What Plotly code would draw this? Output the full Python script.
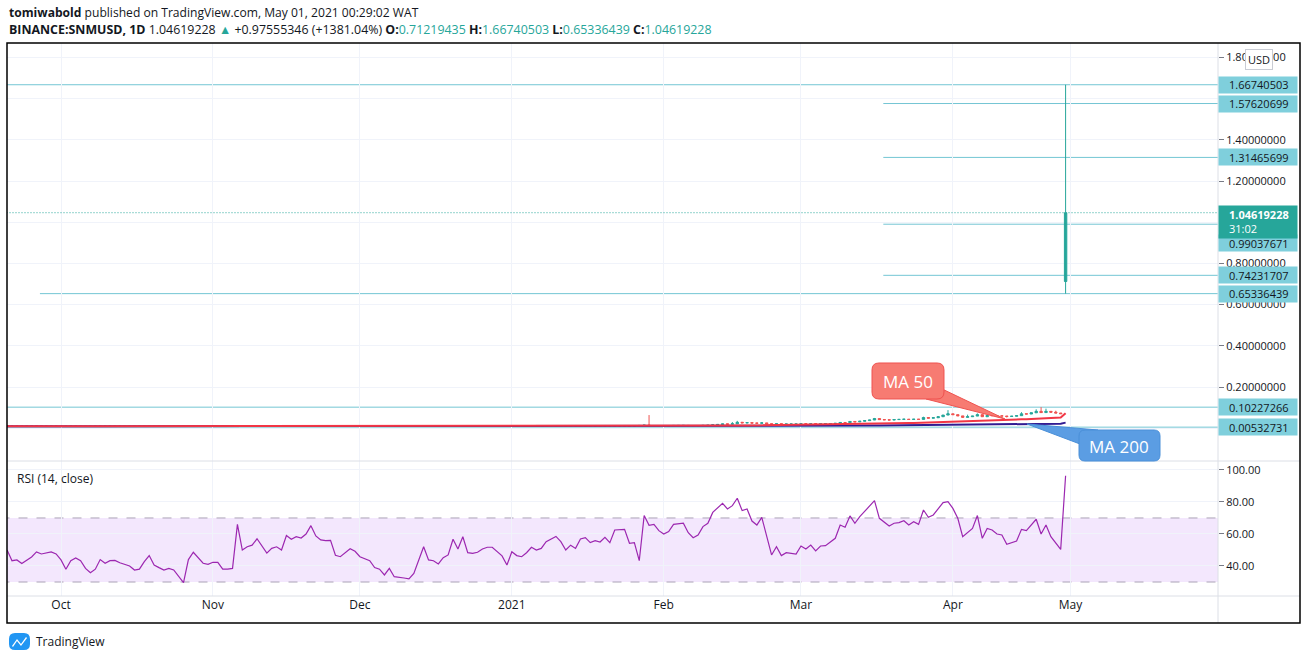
import plotly.graph_objects as go
import pandas as pd

# ---------------- data ----------------
first_bar = -11                     # bar index of the left-most daily bar (Oct 1 2020 = 0)
first_open = 0.0099
closes = [
    0.0098, 0.0101, 0.0097, 0.0095, 0.0099, 0.0102, 0.0100, 0.0098, 0.0096, 0.0099,
    0.0097, 0.0093, 0.0096, 0.0098, 0.0095, 0.0091, 0.0090, 0.0093, 0.0097, 0.0095,
    0.0096, 0.0096, 0.0095, 0.0093, 0.0091, 0.0092, 0.0094, 0.0097, 0.0093, 0.0091,
    0.0090, 0.0091, 0.0090, 0.0085, 0.0096, 0.0100, 0.0097, 0.0095, 0.0094, 0.0094,
    0.0094, 0.0092, 0.0092, 0.0092, 0.0112, 0.0102, 0.0104, 0.0105, 0.0108, 0.0104,
    0.0101, 0.0103, 0.0104, 0.0102, 0.0110, 0.0108, 0.0110, 0.0109, 0.0111, 0.0115,
    0.0110, 0.0107, 0.0106, 0.0106, 0.0106, 0.0098, 0.0097, 0.0099, 0.0101, 0.0100,
    0.0097, 0.0095, 0.0093, 0.0092, 0.0090, 0.0088, 0.0089, 0.0087, 0.0086, 0.0086,
    0.0085, 0.0087, 0.0099, 0.0093, 0.0093, 0.0092, 0.0095, 0.0096, 0.0103, 0.0099,
    0.0105, 0.0098, 0.0097, 0.0098, 0.0100, 0.0101, 0.0102, 0.0102, 0.0100, 0.0097,
    0.0094, 0.0100, 0.0099, 0.0099, 0.0101, 0.0103, 0.0102, 0.0103, 0.0106, 0.0108,
    0.0110, 0.0108, 0.0105, 0.0107, 0.0106, 0.0109, 0.0110, 0.0108, 0.0109, 0.0108,
    0.0110, 0.0109, 0.0114, 0.0114, 0.0115, 0.0109, 0.0109, 0.0102, 0.0125, 0.0135,
    0.0150, 0.0130, 0.0131, 0.0127, 0.0125, 0.0127, 0.0135, 0.0136, 0.0137, 0.0130,
    0.0128, 0.0132, 0.0140, 0.0145, 0.0165, 0.0185, 0.0210, 0.0200, 0.0215, 0.0290,
    0.0260, 0.0270, 0.0250, 0.0245, 0.0260, 0.0215, 0.0200, 0.0215, 0.0200, 0.0205,
    0.0205, 0.0205, 0.0215, 0.0210, 0.0218, 0.0212, 0.0220, 0.0222, 0.0228, 0.0240,
    0.0280, 0.0275, 0.0330, 0.0310, 0.0340, 0.0370, 0.0400, 0.0470, 0.0420, 0.0410,
    0.0400, 0.0420, 0.0430, 0.0440, 0.0425, 0.0440, 0.0430, 0.0520, 0.0490, 0.0510,
    0.0560, 0.0640, 0.0700, 0.0660, 0.0600, 0.0530, 0.0560, 0.0590, 0.0660, 0.0560,
    0.0620, 0.0610, 0.0600, 0.0595, 0.0570, 0.0585, 0.0610, 0.0700, 0.0690, 0.0750,
    0.0820, 0.0760, 0.0820, 0.0780, 0.0740, 0.07063882, 1.04619228,
]
last_open = 0.71219435
wick_high = {120: 0.064, 137: 0.030, 138: 0.036, 143: 0.029, 166: 0.050, 176: 0.056,
             181: 0.088, 185: 0.066, 187: 0.072, 196: 0.078, 199: 0.092, 200: 0.10227266,
             201: 0.095, 203: 0.085, 205: 1.66740503}
wick_low = {184: 0.050, 193: 0.052, 205: 0.65336439}

rsi_bar = [-11, -10, -9, -8, -6, -5, -4, -2, -1, 0, 1, 2, 3, 4, 5, 6, 7, 8, 9, 10, 11, 12, 14, 15, 16,
           17, 18, 19, 20, 21, 22, 23, 25, 26, 27, 28, 29, 30, 31, 32, 33, 34, 35, 36, 37, 38, 39, 40,
           41, 42, 43, 44, 45, 46, 47, 48, 49, 50, 51, 52, 53, 54, 55, 56, 57, 58, 59, 60, 61, 63, 64,
           65, 66, 67, 68, 70, 71, 72, 74, 75, 76, 77, 78, 79, 80, 81, 82, 83, 84, 85, 86, 87, 88, 90,
           91, 92, 93, 94, 95, 96, 97, 98, 99, 101, 102, 103, 104, 105, 106, 107, 108, 109, 110, 111,
           112, 113, 115, 116, 117, 118, 119, 120, 121, 122, 123, 124, 125, 127, 128, 129, 130, 131,
           132, 133, 135, 136, 137, 138, 139, 140, 141, 142, 143, 145, 146, 147, 148, 150, 151, 152,
           153, 154, 155, 156, 157, 158, 159, 160, 161, 162, 163, 166, 167, 169, 170, 171, 172, 173,
           174, 175, 176, 177, 178, 180, 181, 182, 183, 184, 186, 187, 188, 189, 190, 191, 192, 193,
           195, 196, 197, 199, 200, 201, 202, 203, 204, 205]
rsi_val = [50, 43.3, 43.8, 41.5, 45.6, 48.8, 47.5, 48.8, 47.5, 43.8, 38, 43.3, 45, 43.3, 38.5, 35.8,
           38, 44, 41.7, 43.3, 43.5, 42, 40, 37.5, 38, 42.7, 46.5, 40.6, 39, 37.5, 38.5, 37.5, 29.6, 44,
           48.6, 44.8, 41.7, 41, 42.3, 42.3, 38, 38, 38.5, 66, 50, 52, 53, 57, 52.7, 48, 51, 52, 50, 59,
           56.7, 58.3, 57.5, 60, 65.2, 58.8, 56.3, 55.8, 56, 46.7, 45.8, 48.3, 50.8, 49.2, 45.8, 43.3,
           39, 38, 34.4, 38.5, 33.3, 32.5, 31.9, 35.4, 52, 43.8, 43.3, 41.3, 45.2, 46.9, 56.7, 50.6,
           58.3, 48.3, 47.9, 48.6, 50.6, 51.7, 51.7, 46.3, 40.6, 48.9, 46.5, 45.8, 48.3, 51.7, 50, 51,
           55.2, 58.5, 55.2, 50, 53, 51, 56.9, 57.7, 54.6, 55.8, 55, 57.9, 54.6, 62.5, 62.9, 54.2, 54.6,
           43.3, 71.5, 65.4, 66, 62.1, 60, 61.5, 66, 66.7, 60.8, 57.7, 59.4, 64.6, 66.7, 73.5, 79.2,
           75.6, 77.7, 82.3, 74.6, 75.6, 68.1, 65.6, 70.4, 46.9, 52, 46.5, 48.3, 47.5, 52.5, 50.6,
           53.1, 49.4, 52.5, 52.7, 54.8, 57.3, 65.6, 64.2, 71.3, 66.7, 70.8, 80.8, 69.8, 65, 66.7,
           67.1, 68.3, 65.6, 67.7, 66, 75, 70.4, 71.9, 79.6, 80.2, 76, 69.8, 58.3, 63.5, 71.5, 57.3,
           63.5, 62.5, 60, 59.4, 53.6, 55.6, 62.9, 62.1, 69.2, 60, 65.6, 58.3, 54.2, 50.4, 96.4]

month_labels = ["Oct", "Nov", "Dec", "2021", "Feb", "Mar", "Apr", "May"]
month_first_bar = [0, 31, 61, 92, 123, 151, 182, 206]

price_ticks = [0.0, 0.2, 0.4, 0.6, 0.8, 1.0, 1.2, 1.4, 1.6, 1.8]
hidden_price_ticks = [0.0, 1.0, 1.6]      # covered by price labels in the picture
rsi_ticks = [40, 60, 80, 100]

level_values = [1.66740503, 1.57620699, 1.31465699, 0.99037671, 0.74231707,
                0.65336439, 0.10227266, 0.00532731]
level_start_bar = [-12, 167.8, 167.8, 167.8, 167.8, -4.3, -12, -12]

# ---------------- derived series ----------------
n = len(closes)
bars = [first_bar + i for i in range(n)]
opens = [first_open] + closes[:-1]
opens[-1] = last_open
highs = [max(o, c) for o, c in zip(opens, closes)]
lows = [min(o, c) for o, c in zip(opens, closes)]
for b, v in wick_high.items():
    highs[b - first_bar] = v
for b, v in wick_low.items():
    lows[b - first_bar] = v
s = pd.Series(closes)
ma50 = s.rolling(50, min_periods=1).mean()
ma200 = s.rolling(200, min_periods=1).mean()

# ---------------- geometry / style ----------------
W, H = 1307, 660
PL, PR, PT, PB, PS = 7, 1218, 43, 596, 461
XR = [-11.02, 236.1]
Y1R = [-0.159, 1.870]
Y2R = [21.25, 105.6]
rsi_dom = (PB - PS) / (PB - PT)
UP, DN = "#26a69a", "#ef5350"
LVL = "#7fcfdc"
RAY = "#74c6d4"
GRID = "#f0f3fa"
SEP = "#dcdfe6"
TXT = "#131722"
FONT = "Open Sans"


def pp(px, py):
    return (px - PL) / (PR - PL), (PB - py) / (PB - PT)


def poly(points):
    parts = []
    for i, (x, y) in enumerate(points):
        a, b = pp(x, y)
        parts.append(("M" if i == 0 else "L") + f"{a:.5f},{b:.5f}")
    return " ".join(parts) + " Z"


def rrect(x0, y0, x1, y1, r):
    def P(x, y):
        a, b = pp(x, y)
        return f"{a:.5f},{b:.5f}"
    return (f"M{P(x0 + r, y0)} L{P(x1 - r, y0)} Q{P(x1, y0)} {P(x1, y0 + r)} "
            f"L{P(x1, y1 - r)} Q{P(x1, y1)} {P(x1 - r, y1)} L{P(x0 + r, y1)} "
            f"Q{P(x0, y1)} {P(x0, y1 - r)} L{P(x0, y0 + r)} Q{P(x0, y0)} {P(x0 + r, y0)} Z")


fig = go.Figure()
fig.add_trace(go.Candlestick(
    x=bars, open=opens, high=highs, low=lows, close=closes,
    increasing=dict(line=dict(color=UP, width=1), fillcolor=UP),
    decreasing=dict(line=dict(color=DN, width=1), fillcolor=DN),
    whiskerwidth=0, xaxis="x", yaxis="y", hoverinfo="skip"))
fig.add_trace(go.Scatter(x=bars, y=ma200, mode="lines", line=dict(color="#311b92", width=2),
                         xaxis="x", yaxis="y", hoverinfo="skip"))
fig.add_trace(go.Scatter(x=bars, y=ma50, mode="lines", line=dict(color="#f23645", width=2),
                         xaxis="x", yaxis="y", hoverinfo="skip"))
fig.add_trace(go.Scatter(x=rsi_bar, y=rsi_val, mode="lines", line=dict(color="#9c27b0", width=1.2),
                         xaxis="x2", yaxis="y2", hoverinfo="skip"))

shapes = []
# RSI band and dashed bounds
shapes.append(dict(type="rect", xref="x2", yref="y2", x0=XR[0] - 5, x1=XR[1] + 5, y0=30, y1=70,
                   fillcolor="#f3e7fd", line=dict(width=0), layer="below"))
for v in (30, 70):
    shapes.append(dict(type="line", xref="x2", yref="y2", x0=XR[0] - 5, x1=XR[1] + 5, y0=v, y1=v,
                       line=dict(color="#aaa2b6", width=1, dash="dash"), layer="below"))
# horizontal rays
for v, b in zip(level_values, level_start_bar):
    shapes.append(dict(type="line", xref="x", yref="y", x0=b, x1=XR[1] + 5, y0=v, y1=v,
                       line=dict(color=RAY, width=1), layer="below"))
# last price dotted line
shapes.append(dict(type="line", xref="x", yref="y", x0=XR[0] - 5, x1=XR[1] + 5,
                   y0=closes[-1], y1=closes[-1], line=dict(color=UP, width=1, dash="1px,2px")))
# separators / frame
xr_end = (1300 - PL) / (PR - PL)
ybot = (PB - 623) / (PB - PT)
for py in (PS, PB):
    _, yy = pp(0, py)
    shapes.append(dict(type="line", xref="paper", yref="paper", x0=0, x1=xr_end, y0=yy, y1=yy,
                       line=dict(color=SEP, width=1)))
shapes.append(dict(type="line", xref="paper", yref="paper", x0=1, x1=1, y0=ybot, y1=1,
                   line=dict(color=SEP, width=1)))
shapes.append(dict(type="rect", xref="paper", yref="paper", x0=0, x1=xr_end, y0=ybot, y1=1,
                   line=dict(color="#000000", width=1.5)))
# MA callouts
RED_FILL, RED_LINE = "#f77b72", "#ef5350"
BLU_FILL, BLU_LINE = "#5b9de3", "#4a8fd8"
shapes.append(dict(type="path", xref="paper", yref="paper",
                   path=poly([(940, 388), (1005, 419), (926, 399)]),
                   fillcolor=RED_FILL, line=dict(color=RED_LINE, width=1)))
shapes.append(dict(type="path", xref="paper", yref="paper", path=rrect(872, 363, 944, 399, 7),
                   fillcolor=RED_FILL, line=dict(color=RED_LINE, width=1)))
shapes.append(dict(type="path", xref="paper", yref="paper",
                   path=poly([(1027, 424), (1098, 430), (1080, 444)]),
                   fillcolor=BLU_FILL, line=dict(color=BLU_LINE, width=1)))
shapes.append(dict(type="path", xref="paper", yref="paper", path=rrect(1079, 430, 1160, 461, 6),
                   fillcolor=BLU_FILL, line=dict(color=BLU_LINE, width=1)))
# TradingView logo
shapes.append(dict(type="path", xref="paper", yref="paper",
                   path=rrect(9, 633, 30, 650, 6), fillcolor="#2196f3", line=dict(width=0)))
shapes.append(dict(type="path", xref="paper", yref="paper",
                   path=poly([(12, 646), (17, 639), (21, 644), (26, 637), (27, 638), (21, 646), (17, 641), (13, 647)]),
                   fillcolor="white", line=dict(width=0)))

ann = []
def pa(px, py, text, size=12, color=TXT, xanchor="left", yanchor="middle", **kw):
    x, y = pp(px, py)
    ann.append(dict(xref="paper", yref="paper", x=x, y=y, text=text, showarrow=False,
                    xanchor=xanchor, yanchor=yanchor, font=dict(family=FONT, size=size, color=color), **kw))

# header
pa(7, 12, "<b>tomiwabold</b> published on TradingView.com, May 01, 2021 00:29:02 WAT", size=12.1)
prev_close = closes[-2]
chg = closes[-1] - prev_close
pct = chg / prev_close * 100
g = lambda v: f"<span style='color:{UP}'>{v:.8f}</span>"
pa(7, 29, f"<b>BINANCE:SNMUSD, 1D</b> {closes[-1]:.8f} <span style='color:{UP}'>▲</span> "
          f"+{chg:.8f} (+{pct:.2f}%) <b>O:</b>{g(last_open)} <b>H:</b>{g(highs[-1])} "
          f"<b>L:</b>{g(lows[-1])} <b>C:</b>{g(closes[-1])}", size=12.4)
pa(15, 478, "RSI (14, close)", size=12)
pa(34, 641, "TradingView", size=12)
# callout texts
pa(908, 381, "MA 50", size=17, color="white", xanchor="center")
pa(1119, 446, "MA 200", size=17, color="white", xanchor="center")
# USD button
pa(1259, 59, "USD", size=11, xanchor="center", bgcolor="white", bordercolor="#c9ccd4",
   borderwidth=1, borderpad=2)

# price labels
label_shift = {0.99037671: -19}
for v in level_values:
    sh = label_shift.get(v, 0)
    ann.append(dict(xref="paper", yref="y", x=1, y=v, xanchor="left", yanchor="middle", yshift=sh,
                    text=".", showarrow=False, width=78, height=16, borderpad=0, bgcolor=LVL,
                    font=dict(color=LVL, size=10)))
    ann.append(dict(xref="paper", yref="y", x=1, y=v, xanchor="left", yanchor="middle", yshift=sh,
                    xshift=9, text=f"{v:.8f}", showarrow=False,
                    font=dict(family=FONT, size=11, color=TXT)))
ann.append(dict(xref="paper", yref="y", x=1, y=closes[-1], xanchor="left", yanchor="top", yshift=8,
                text=".", showarrow=False, width=78, height=32, borderpad=0, bgcolor=UP,
                font=dict(color=UP, size=10)))
ann.append(dict(xref="paper", yref="y", x=1, y=closes[-1], xanchor="left", yanchor="top", yshift=8,
                xshift=9, text=f"<b>{closes[-1]:.8f}</b><br>31:02", showarrow=False, align="left",
                font=dict(family=FONT, size=11, color="white")))

shown_ticks = [t for t in price_ticks if t not in hidden_price_ticks]
axis_common = dict(showline=False, zeroline=False, gridcolor=GRID, gridwidth=1)
fig.update_layout(
    width=W, height=H, paper_bgcolor="white", plot_bgcolor="white", showlegend=False,
    margin=dict(l=PL, r=W - PR, t=PT, b=H - PB),
    font=dict(family=FONT, color=TXT),
    xaxis=dict(domain=[0, 1], range=XR, anchor="y", tickvals=month_first_bar, showticklabels=False,
               rangeslider=dict(visible=False), **axis_common),
    xaxis2=dict(domain=[0, 1], range=XR, anchor="y2", matches="x", tickvals=month_first_bar,
                ticktext=month_labels, tickfont=dict(family=FONT, size=12, color=TXT), ticks="",
                **axis_common),
    yaxis=dict(domain=[rsi_dom, 1], range=Y1R, side="right", anchor="x", tickvals=price_ticks,
               ticktext=[f"{t:.8f}" if t in shown_ticks else "" for t in price_ticks],
               ticks="outside", ticklen=5,
               tickcolor="#787b86", tickfont=dict(family=FONT, size=11, color=TXT), **axis_common),
    yaxis2=dict(domain=[0, rsi_dom], range=Y2R, side="right", anchor="x2", tickvals=rsi_ticks,
                ticktext=[f"{t:.2f}" for t in rsi_ticks], ticks="outside", ticklen=5,
                tickcolor="#787b86", tickfont=dict(family=FONT, size=11, color=TXT), **axis_common),
    shapes=shapes, annotations=ann,
)
fig.write_html("out.html", config={"displayModeBar": False, "staticPlot": True},
               post_script="document.body.style.margin='0';")
